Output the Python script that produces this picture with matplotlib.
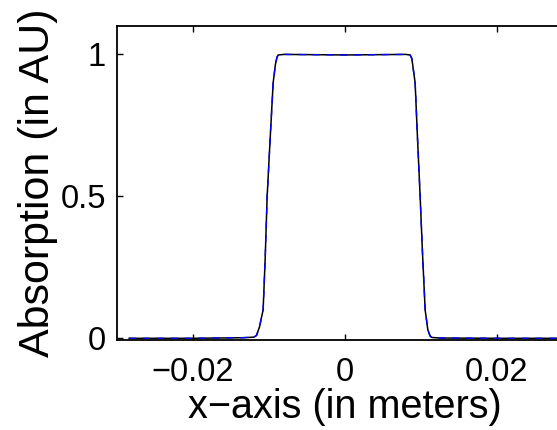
import matplotlib.pyplot as plt

plt.rcParams['font.family'] = ['Liberation Sans', 'DejaVu Sans']

# profile (x in meters, absorption in AU)
x_pts = [-0.0284, -0.020, -0.0135, -0.0120, -0.01164, -0.01125, -0.01077,
         -0.01050, -0.01024, -0.00985, -0.00945, -0.00915, -0.00895,
         -0.00879, -0.0080, 0.0, 0.0080, 0.00857, 0.00880, 0.00923,
         0.00955, 0.00989, 0.01020, 0.01055, 0.01090, 0.01120, 0.01143,
         0.0125, 0.020, 0.030]
y_black = [0.000, 0.000, 0.002, 0.004, 0.010, 0.040, 0.100, 0.280, 0.500,
           0.700, 0.900, 0.965, 0.990, 0.998, 1.000, 0.998, 1.000, 0.998,
           0.985, 0.900, 0.700, 0.500, 0.300, 0.100, 0.030, 0.008, 0.003,
           0.001, 0.000, 0.000]
y_blue = y_black

xticks = [-0.02, 0, 0.02]
xlabels = ['\u22120.02', '0', '0.02']
yticks = [0, 0.5, 1]
ylabels = ['0', '0.5', '1']

fig = plt.figure(figsize=(5.57, 4.30), dpi=100)
ax = fig.add_axes([0.210, 0.2093, 0.8187, 0.7302])

ax.plot(x_pts, y_black, color='black', linewidth=1.1)
ax.plot(x_pts, y_blue, color='blue', linewidth=1.0, linestyle=(0, (5, 5)))

ax.set_xlim(-0.03, 0.03)
ax.set_ylim(-0.006, 1.1)
ax.set_xticks(xticks)
ax.set_xticklabels(xlabels)
ax.set_yticks(yticks)
ax.set_yticklabels(ylabels)
ax.tick_params(direction='in', length=4, width=1, labelsize=23.5,
               top=True, right=True)
ax.tick_params(axis='x', pad=12)
ax.tick_params(axis='y', pad=8)
for s in ax.spines.values():
    s.set_linewidth(1.3)

ax.set_xlabel('x\u2212axis (in meters)', fontsize=28.5, labelpad=0)
ax.set_ylabel('Absorption (in AU)', fontsize=31, labelpad=2)

fig.savefig('out.png', dpi=100)
